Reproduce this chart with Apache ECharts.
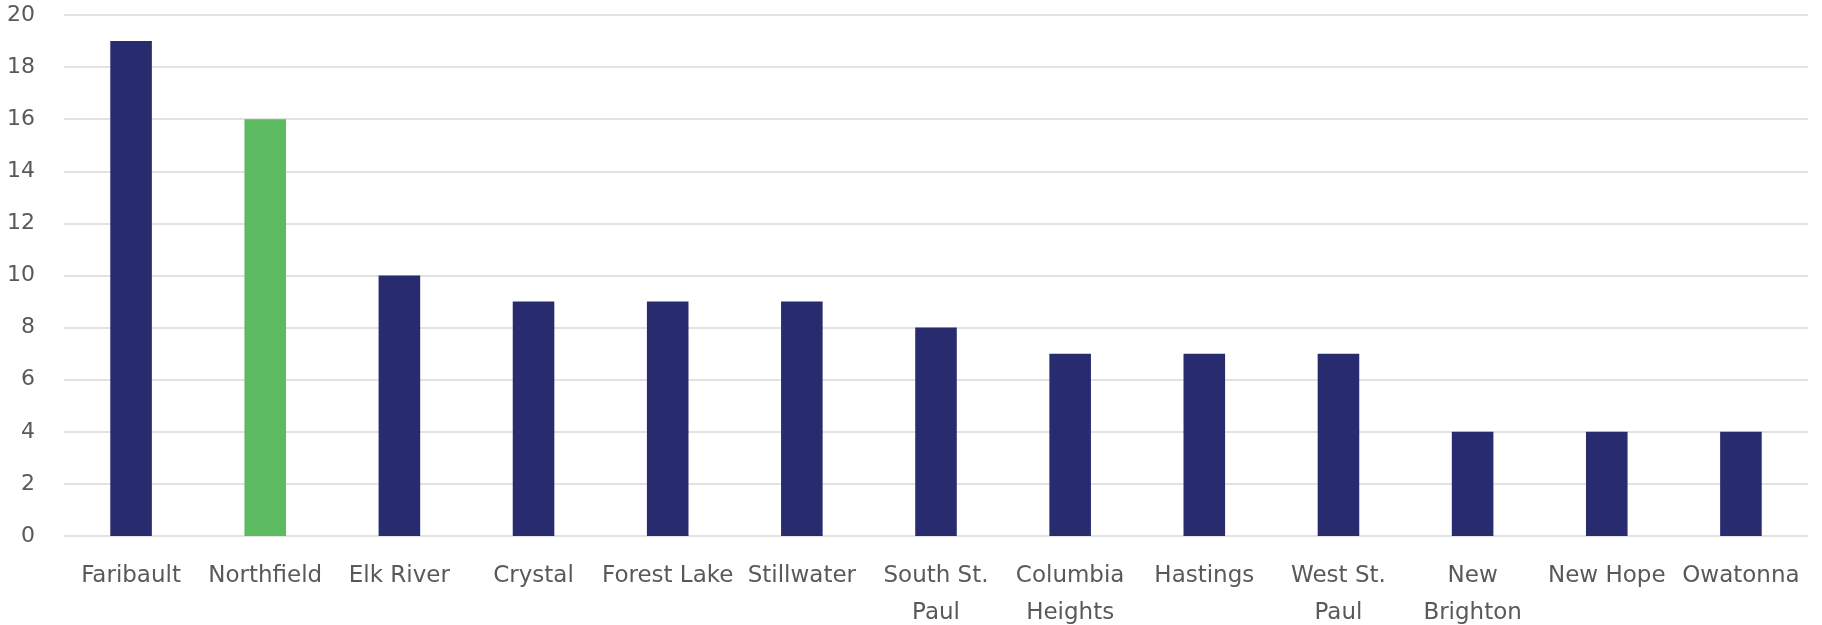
<!DOCTYPE html>
<html>
<head>
<meta charset="utf-8">
<script src="https://cdn.jsdelivr.net/npm/echarts@6/dist/echarts.min.js"></script>
<style>
  html, body { margin: 0; padding: 0; background: #ffffff; }
  #chart { width: 1822px; height: 625px; }
</style>
</head>
<body>
<div id="chart"></div>
<script>
// Cities (line breaks where the axis label wraps)
const categories = [
  'Faribault', 'Northfield', 'Elk River', 'Crystal', 'Forest Lake', 'Stillwater',
  'South St.\nPaul', 'Columbia\nHeights', 'Hastings', 'West St.\nPaul',
  'New\nBrighton', 'New Hope', 'Owatonna'
];
const values = [19, 16, 10, 9, 9, 9, 8, 7, 7, 7, 4, 4, 4];
const highlighted = 'Northfield';
const yTicks = { min: 0, max: 20, interval: 2 };

const NAVY = '#282c6f';
const GREEN = '#5cba61';
const TEXT = '#595959';
const FONT = 'DejaVu Sans';

const chart = echarts.init(document.getElementById('chart'), null, { renderer: 'canvas' });
chart.setOption({
  animation: false,
  grid: {
    left: 64, right: 14, top: 15, bottom: 89,
    containLabel: false,
    outerBoundsMode: 'none'
  },
  xAxis: {
    type: 'category',
    data: categories,
    axisLine: { show: false },
    axisTick: { show: false },
    axisLabel: {
      interval: 0,
      color: TEXT,
      fontFamily: FONT,
      fontSize: 23,
      lineHeight: 37,
      margin: 22
    }
  },
  yAxis: {
    type: 'value',
    min: yTicks.min,
    max: yTicks.max,
    interval: yTicks.interval,
    axisLine: { show: false },
    axisTick: { show: false },
    axisLabel: { color: TEXT, fontFamily: FONT, fontSize: 22, margin: 29 },
    splitLine: { lineStyle: { color: '#d9d9d9', width: 1.5 } }
  },
  series: [{
    type: 'bar',
    barWidth: '31%',
    data: values.map((v, i) => ({
      value: v,
      itemStyle: { color: categories[i] === highlighted ? GREEN : NAVY }
    }))
  }]
});
</script>
</body>
</html>
